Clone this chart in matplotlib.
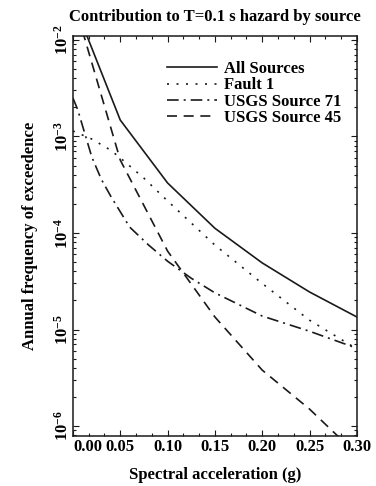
import matplotlib
matplotlib.use('Agg')
import matplotlib.pyplot as plt
from matplotlib.ticker import AutoMinorLocator, LogLocator, FixedLocator, NullFormatter
import numpy as np

# hazard curves per source, annual frequency of exceedence vs spectral acceleration (g)
sa_all = [0.01, 0.05, 0.10, 0.15, 0.20, 0.25, 0.30]
afe_all = [1.45e-2, 1.48e-3, 3.3e-4, 1.12e-4, 4.9e-5, 2.45e-5, 1.35e-5]

sa_fault1 = [0.0, 0.02, 0.04, 0.05, 0.075, 0.10, 0.15, 0.20, 0.25, 0.30]
afe_fault1 = [1.14e-3, 9.4e-4, 7.2e-4, 6.0e-4, 3.7e-4, 2.15e-4, 7.5e-5, 3.0e-5, 1.25e-5, 6.3e-6]

sa_usgs71 = [0.0, 0.005, 0.02, 0.03, 0.04, 0.06, 0.08, 0.10, 0.125, 0.15, 0.20, 0.25, 0.30]
afe_usgs71 = [2.5e-3, 1.9e-3, 6.1e-4, 3.6e-4, 2.4e-4, 1.15e-4, 7.5e-5, 5.1e-5, 3.4e-5, 2.4e-5, 1.38e-5, 9.6e-6, 6.4e-6]

sa_usgs45 = [0.01, 0.05, 0.10, 0.15, 0.20, 0.25, 0.30]
afe_usgs45 = [1.25e-2, 5.7e-4, 6.5e-5, 1.35e-5, 3.8e-6, 1.5e-6, 5.1e-7]

xticks = [0.0, 0.05, 0.10, 0.15, 0.20, 0.25, 0.30]
xticklabels = ['0.00', '0.05', '0.10', '0.15', '0.20', '0.25', '0.30']
yticks = [1e-6, 1e-5, 1e-4, 1e-3, 1e-2]
yticklabels = ['$10^{-6}$', '$10^{-5}$', '$10^{-4}$', '$10^{-3}$', '$10^{-2}$']

plt.rcParams['font.family'] = ['Liberation Serif', 'DejaVu Serif']
plt.rcParams['font.weight'] = 'bold'
plt.rcParams['axes.titleweight'] = 'bold'
plt.rcParams['axes.labelweight'] = 'bold'
plt.rcParams['mathtext.fontset'] = 'custom'
plt.rcParams['mathtext.rm'] = 'Liberation Serif:bold'
plt.rcParams['mathtext.default'] = 'rm'
plt.rcParams['xtick.direction'] = 'in'
plt.rcParams['ytick.direction'] = 'in'

ink = '#1a1a1a'
fs = 12
fig = plt.figure(figsize=(3.76, 4.86), dpi=100)
ax = fig.add_axes([0.194, 0.103, 0.755, 0.823])

ax.plot(sa_all, afe_all, color=ink, lw=1.2, label='All Sources')
ax.plot(sa_fault1, afe_fault1, color=ink, lw=1.2, dashes=(1.2, 4.5), label='Fault 1')
ax.plot(sa_usgs71, afe_usgs71, color=ink, lw=1.2, dashes=(7, 3, 1.2, 3), label='USGS Source 71')
ax.plot(sa_usgs45, afe_usgs45, color=ink, lw=1.2, dashes=(6, 4), label='USGS Source 45')

ax.set_yscale('log')
ax.set_xlim(0.0, 0.30)
ax.set_ylim(7.9e-7, 1.1e-2)

ax.xaxis.set_major_locator(FixedLocator(xticks))
ax.set_xticklabels(xticklabels, fontsize=fs)
ax.get_xticklabels()[0].set_horizontalalignment('left')
ax.xaxis.set_minor_locator(AutoMinorLocator(3))
ax.yaxis.set_major_locator(FixedLocator(yticks))
ax.set_yticklabels(yticklabels, fontsize=fs, rotation=90, va='center')
ax.yaxis.set_minor_locator(LogLocator(base=10, subs=np.arange(2, 10)))
ax.yaxis.set_minor_formatter(NullFormatter())
ax.tick_params(which='both', top=True, right=True, color=ink, width=0.8)
ax.tick_params(which='major', length=4, pad=2)
ax.tick_params(axis='y', which='major', pad=1)
ax.tick_params(which='minor', length=2)
for s in ax.spines.values():
    s.set_linewidth(1.1)
    s.set_color(ink)

ax.set_title('Contribution to T=0.1 s hazard by source', fontsize=fs, pad=11)
ax.set_xlabel('Spectral acceleration (g)', fontsize=fs, labelpad=9)
ax.set_ylabel('Annual frequency of exceedence', fontsize=fs, labelpad=11)

ax.legend(loc='upper left', bbox_to_anchor=(0.332, 0.937), frameon=False, fontsize=fs,
          handlelength=3.0, handletextpad=0.4, labelspacing=0.02, borderpad=0,
          borderaxespad=0)

plt.savefig('out.png', dpi=100)
plt.close()
